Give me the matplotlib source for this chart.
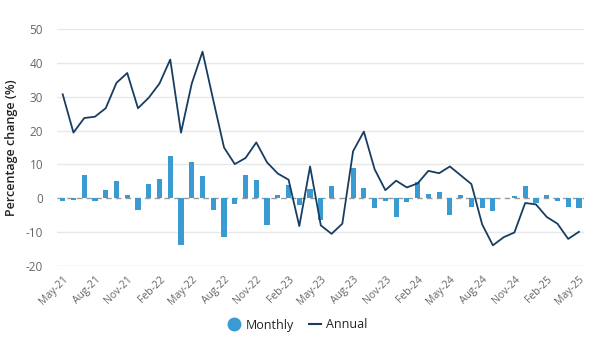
import matplotlib
matplotlib.use("Agg")
import matplotlib.pyplot as plt
from matplotlib.lines import Line2D

plt.rcParams['font.family'] = ['Open Sans', 'DejaVu Sans']

months = ["May-21", "Jun-21", "Jul-21", "Aug-21", "Sep-21", "Oct-21", "Nov-21", "Dec-21",
          "Jan-22", "Feb-22", "Mar-22", "Apr-22", "May-22", "Jun-22", "Jul-22", "Aug-22",
          "Sep-22", "Oct-22", "Nov-22", "Dec-22", "Jan-23", "Feb-23", "Mar-23", "Apr-23",
          "May-23", "Jun-23", "Jul-23", "Aug-23", "Sep-23", "Oct-23", "Nov-23", "Dec-23",
          "Jan-24", "Feb-24", "Mar-24", "Apr-24", "May-24", "Jun-24", "Jul-24", "Aug-24",
          "Sep-24", "Oct-24", "Nov-24", "Dec-24", "Jan-25", "Feb-25", "Mar-25", "Apr-25",
          "May-25"]

monthly = [-0.8, -0.4, 6.8, -0.8, 2.3, 5.1, 1.1, -3.5, 4.2, 5.7, 12.4, -13.9,
           10.7, 6.5, -3.4, -11.4, -1.7, 6.8, 5.3, -8.0, 0.9, 4.0, -2.1, 2.7,
           -6.5, 3.5, 0.0, 8.8, 3.1, -2.8, -0.7, -5.5, -1.0, 4.9, 1.3, 1.9,
           -5.0, 1.0, -2.6, -3.0, -3.9, 0.0, 0.7, 3.6, -1.3, 1.1, -0.8, -2.6,
           -2.8]

annual = [30.7, 19.4, 23.7, 24.1, 26.6, 34.1, 37.0, 26.6, 29.7, 33.9, 41.0, 19.4,
          33.9, 43.3, 29.0, 15.0, 10.1, 11.9, 16.5, 10.6, 7.3, 5.5, -8.2, 9.4,
          -8.0, -10.5, -7.5, 13.9, 19.7, 8.6, 2.4, 5.2, 3.2, 4.4, 8.1, 7.4,
          9.4, 6.8, 4.2, -7.7, -13.9, -11.5, -10.1, -1.4, -1.8, -5.5, -7.5, -12.0,
          -9.9]

yticks = [-20, -10, 0, 10, 20, 30, 40, 50]

bar_color = "#3a9bd3"
line_color = "#173e62"

fig = plt.figure(figsize=(6.02, 3.41), dpi=100)
ax = fig.add_axes([57/602, 1 - 266/341, (584 - 57)/602, (266 - 29)/341])

x = list(range(len(months)))
ax.bar(x, monthly, width=0.48, color=bar_color, zorder=3)
ax.plot(x, annual, color=line_color, linewidth=1.3, zorder=4)
ax.axhline(0, color="#9a9a9a", linewidth=1.0, linestyle=(0, (4, 3)), zorder=2)

ax.set_ylim(-20, 50)
ax.set_xlim(-0.53, 48.47)
ax.set_yticks(yticks)
ax.set_yticklabels([str(v) for v in yticks], fontsize=8.5, color="#666666")
for v in yticks:
    if v == -20:
        ax.axhline(v, color="#cfdbe6", linewidth=1.0, zorder=1)
    elif v != 0:
        ax.axhline(v, color="#e8e8e8", linewidth=1.0, zorder=1)

ax.set_xticks(x[::3])
ax.set_xticklabels(months[::3], rotation=45, ha="right", rotation_mode="anchor",
                   fontsize=7.5, color="#666666")
ax.tick_params(axis="x", length=0, pad=6)
ax.tick_params(axis="y", length=0, pad=10)
for s in ax.spines.values():
    s.set_visible(False)

ax.set_ylabel("Percentage change (%)", fontsize=9, color="#222222", fontweight="semibold")
ax.yaxis.set_label_coords((18 - 57) / 527, 0.5)

handles = [
    Line2D([], [], marker="o", linestyle="none", markersize=9, color=bar_color, label="Monthly"),
    Line2D([], [], color=line_color, linewidth=1.5, label="Annual"),
]
fig.legend(handles=handles, loc="center", bbox_to_anchor=(0.495, 1 - 325/341), ncol=2,
           frameon=False, fontsize=9, handlelength=1.0, handletextpad=0.4, columnspacing=1.2,
           labelcolor="#222222")

fig.savefig("out.png", dpi=100, facecolor="white")
